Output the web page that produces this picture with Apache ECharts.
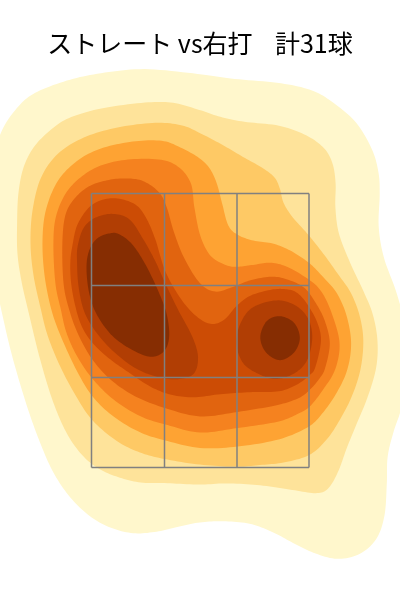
<!DOCTYPE html>
<html><head><meta charset="utf-8">
<style>html,body{margin:0;padding:0;background:#fff}#c{width:400px;height:600px}</style>
<script src="https://cdn.jsdelivr.net/npm/echarts@6/dist/echarts.min.js"></script></head>
<body><div id="c"></div><script>
const titleText = "ストレート vs右打    計31球";
const levelColors = ["#FFF7CC","#FEE39A","#FEC965","#FEA333","#F5821F","#E1640F","#CC4C05","#B13E04","#862D02"];
const level1 = [[0,132],[17,107],[33,93],[67,80],[100,73],[143,68],[200,74],[233,79],[283,83],[313,90],[333,102],[357,122],[373,150],[379,173],[380,193],[378,227],[383,257],[397,293],[410,340],[410,385],[400,413],[393,433],[387,457],[387,483],[385,517],[377,540],[360,555],[337,560],[313,553],[293,543],[273,532],[250,523],[223,521],[200,522],[177,527],[157,532],[133,534],[110,528],[90,517],[70,498],[53,473],[40,443],[27,407],[13,360],[5,327],[-4,285],[-10,230],[-10,170]];
const level2 = [[17,253],[17,223],[18,193],[23,167],[33,147],[50,130],[67,118],[100,108],[147,102],[173,102],[200,110],[220,117],[243,122],[280,125],[307,135],[325,148],[333,163],[336,183],[335,207],[338,233],[350,263],[363,290],[373,313],[378,340],[377,367],[368,397],[357,423],[347,447],[338,473],[328,490],[317,494],[293,490],[260,485],[227,483],[200,485],[167,483],[140,483],[120,478],[100,470],[83,457],[67,435],[53,403],[40,360],[28,310],[21,280]];
const level3 = [[30,243],[32,210],[40,177],[57,153],[83,137],[117,127],[157,122],[183,125],[200,133],[223,145],[243,157],[263,168],[275,177],[280,188],[283,203],[292,217],[307,233],[323,253],[340,277],[351,292],[360,315],[364,340],[361,370],[352,397],[340,420],[327,440],[310,456],[283,463],[260,465],[237,467],[200,465],[163,459],[140,453],[117,442],[92,421],[78,400],[60,367],[47,335],[41,310],[33,275]];
const level4 = [[42,240],[45,210],[57,180],[77,160],[100,148],[133,141],[163,140],[180,147],[200,158],[210,168],[217,183],[222,203],[228,227],[237,235],[253,241],[273,243],[290,250],[310,263],[323,277],[337,292],[347,315],[352,343],[348,370],[337,393],[323,413],[310,427],[280,440],[237,447],[200,449],[163,440],[140,433],[113,417],[92,397],[77,372],[60,335],[51,310],[44,275]];
const level5 = [[53,243],[55,217],[65,193],[80,177],[100,165],[127,159],[163,159],[180,167],[192,183],[194,207],[200,237],[210,257],[227,266],[237,267],[253,265],[270,262],[287,266],[310,280],[321,290],[331,310],[341,343],[336,370],[323,390],[310,407],[300,413],[280,422],[237,428],[200,434],[167,425],[140,417],[113,400],[92,379],[77,357],[66,333],[61,310],[55,285]];
const level6 = [[62,240],[65,213],[75,197],[90,185],[107,180],[125,178],[143,180],[160,192],[167,207],[173,230],[183,257],[200,285],[215,293],[233,287],[250,280],[272,276],[287,279],[305,287],[316,303],[325,320],[331,343],[325,370],[320,378],[310,390],[300,398],[280,405],[237,412],[200,418],[164,408],[135,397],[110,380],[92,360],[78,335],[69,310],[63,285]];
const level7 = [[70,263],[72,247],[77,223],[92,203],[113,197],[135,203],[145,215],[155,237],[165,273],[183,303],[200,320],[213,325],[225,320],[237,305],[250,295],[273,289],[287,289],[297,292],[307,303],[318,323],[322,340],[315,370],[310,375],[297,385],[280,392],[250,392],[220,394],[193,398],[170,395],[150,387],[128,372],[108,358],[92,343],[82,328],[76,310],[71,285]];
const level8a = [[77,263],[77,247],[83,227],[95,217],[113,213],[130,218],[142,237],[155,260],[165,283],[178,310],[193,337],[199,357],[195,375],[178,380],[155,377],[132,367],[108,347],[92,327],[83,310],[78,285]];
const level8b = [[277,299],[250,307],[238,327],[236,347],[243,365],[260,375],[275,380],[293,375],[307,363],[313,340],[310,320],[297,305]];
const level9a = [[86,263],[88,290],[95,313],[112,337],[135,352],[152,358],[165,352],[170,337],[167,313],[158,290],[145,263],[132,243],[118,233],[110,233],[98,237],[90,247]];
const level9b = [[280,315],[266,320],[259,337],[265,353],[280,362],[295,353],[301,338],[295,322]];
const contours = [
  [level1,0],[level2,1],[level3,2],[level4,3],[level5,4],[level6,5],[level7,6],
  [level8a,7],[level8b,7],[level9a,8],[level9b,8]
];
const zoneX = [91.5,164.5,237,309];
const zoneY = [193.5,285.5,377.5,467.5];
const zoneLines = [];
zoneX.forEach(x => zoneLines.push([[x,zoneY[0]],[x,zoneY[3]]]));
zoneY.forEach(y => zoneLines.push([[zoneX[0],y],[zoneX[3],y]]));

// Pixel curve through the projected outline: light relaxation, then closed Catmull-Rom sampling.
function curve(pts){
  const n=pts.length, r=pts.map((p,i)=>{
    const a=pts[(i-1+n)%n], b=pts[(i+1)%n];
    return [0.1*a[0]+0.8*p[0]+0.1*b[0], 0.1*a[1]+0.8*p[1]+0.1*b[1]];
  });
  const out=[];
  for(let i=0;i<n;i++){
    const p0=r[(i-1+n)%n],p1=r[i],p2=r[(i+1)%n],p3=r[(i+2)%n];
    for(let k=0;k<10;k++){
      const t=k/10,t2=t*t,t3=t2*t;
      out.push([0,1].map(d=>0.5*(2*p1[d]+(p2[d]-p0[d])*t+(2*p0[d]-5*p1[d]+4*p2[d]-p3[d])*t2+(3*p1[d]-p0[d]-3*p2[d]+p3[d])*t3)));
    }
  }
  return out;
}

const chart = echarts.init(document.getElementById('c'), null, {renderer:'canvas'});
chart.setOption({
  animation:false,
  backgroundColor:'#fff',
  title:{text:titleText,left:'center',top:26,textStyle:{fontFamily:'"Noto Sans CJK JP","Noto Sans",sans-serif',fontSize:25,fontWeight:'normal',color:'#000'}},
  grid:{left:0,right:0,top:0,bottom:0},
  xAxis:{type:'value',min:0,max:400,show:false},
  yAxis:{type:'value',min:0,max:600,inverse:true,show:false},
  series:[
    {type:'custom',coordinateSystem:'cartesian2d',silent:true,clip:true,
     data:contours.map((c,i)=>[i]),encode:{x:[],y:[]},
     renderItem:(params,api)=>{
       const c=contours[params.dataIndex];
       return {type:'polygon',shape:{points:curve(c[0].map(p=>api.coord(p)))},style:{fill:levelColors[c[1]]}};
     }},
    {type:'custom',coordinateSystem:'cartesian2d',silent:true,clip:false,
     data:zoneLines.map((l,i)=>[i]),encode:{x:[],y:[]},z:5,
     renderItem:(params,api)=>{
       const l=zoneLines[params.dataIndex];
       const a=api.coord(l[0]),b=api.coord(l[1]);
       return {type:'line',shape:{x1:a[0],y1:a[1],x2:b[0],y2:b[1]},style:{stroke:'#808080',lineWidth:1.5,fill:null}};
     }}
  ]
});
</script></body></html>
